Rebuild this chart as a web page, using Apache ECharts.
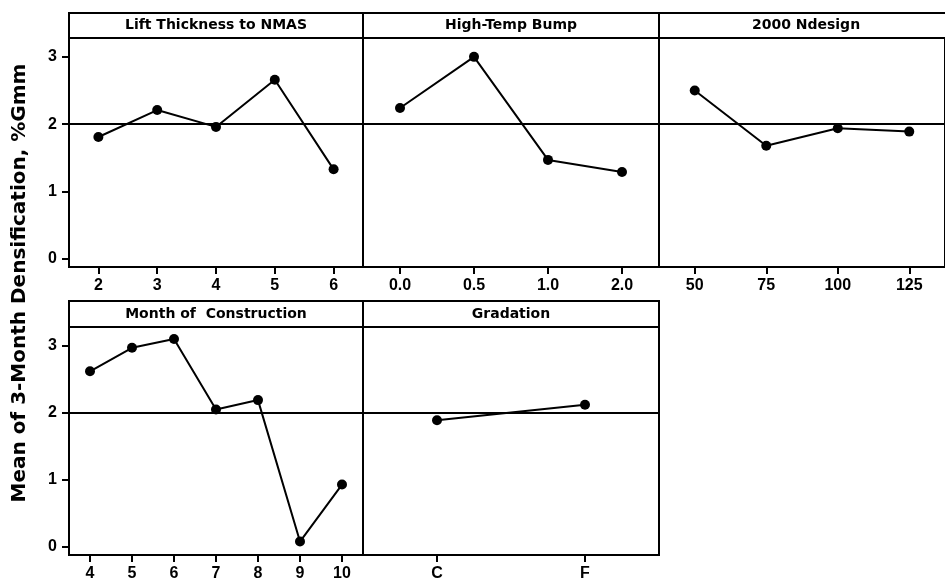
<!DOCTYPE html>
<html>
<head>
<meta charset="utf-8">
<script src="https://cdn.jsdelivr.net/npm/echarts@6/dist/echarts.min.js"></script>
<style>
  html, body { margin: 0; padding: 0; background: #fff; }
  #chart { width: 945px; height: 584px; }
</style>
</head>
<body>
<div id="chart"></div>
<script>
// Main effects of each factor on mean 3-month densification (%Gmm)
const liftLevels = ['2', '3', '4', '5', '6'];
const liftMeans = [1.81, 2.21, 1.96, 2.66, 1.33];

const bumpLevels = ['0.0', '0.5', '1.0', '2.0'];
const bumpMeans = [2.24, 3.00, 1.47, 1.29];

const ndesignLevels = ['50', '75', '100', '125'];
const ndesignMeans = [2.50, 1.68, 1.94, 1.89];

const monthLevels = ['4', '5', '6', '7', '8', '9', '10'];
const monthMeans = [2.62, 2.97, 3.10, 2.05, 2.19, 0.08, 0.93];

const gradationLevels = ['C', 'F'];
const gradationMeans = [1.89, 2.12];

const grandMean = 2.0;
const yTickValues = [0, 1, 2, 3];
const yAxisTitle = 'Mean of 3-Month Densification, %Gmm';

const panelTitles = ['Lift Thickness to NMAS', 'High-Temp Bump', '2000 Ndesign', 'Month of  Construction', 'Gradation'];
const panelLevels = [liftLevels, bumpLevels, ndesignLevels, monthLevels, gradationLevels];
const panelMeans = [liftMeans, bumpMeans, ndesignMeans, monthMeans, gradationMeans];

// panel frames: [left, top of plot, width, height]
const panelBoxes = [
  [69, 38, 294, 229],
  [363, 38, 296, 229],
  [659, 38, 293, 229],
  [69, 327, 294, 228],
  [363, 327, 296, 228]
];
const stripHeight = [25, 25, 25, 26, 26];
const yColumnFirst = [true, false, false, true, false];

const INK = '#000';
const tickFont = 'Liberation Sans';

const chart = echarts.init(document.getElementById('chart'), null, { renderer: 'canvas' });

const grids = [], xAxes = [], yAxes = [], series = [], graphics = [];

panelBoxes.forEach((b, i) => {
  grids.push({
    left: b[0], top: b[1], width: b[2], height: b[3],
    show: true, borderColor: INK, borderWidth: 2, backgroundColor: '#fff'
  });
  xAxes.push({
    type: 'category', gridIndex: i, data: panelLevels[i], boundaryGap: true,
    axisLine: { show: true, onZero: false, lineStyle: { color: INK, width: 2 } },
    axisTick: { show: true, alignWithLabel: true, length: 7, lineStyle: { color: INK, width: 2 } },
    axisLabel: { color: INK, fontFamily: tickFont, fontWeight: 'bold', fontSize: 16, margin: 11 },
    splitLine: { show: false }
  });
  yAxes.push({
    type: 'value', gridIndex: i, min: -0.12, max: 3.28,
    axisLine: { show: yColumnFirst[i], lineStyle: { color: INK, width: 2 } },
    axisTick: { show: yColumnFirst[i], customValues: yTickValues, length: 7, lineStyle: { color: INK, width: 2 } },
    axisLabel: { show: yColumnFirst[i], customValues: yTickValues, color: INK, fontFamily: tickFont, fontWeight: 'bold', fontSize: 16, margin: 12 },
    splitLine: { show: false }
  });
  series.push({
    type: 'line', xAxisIndex: i, yAxisIndex: i, data: panelMeans[i],
    symbol: 'circle', symbolSize: 10,
    itemStyle: { color: INK },
    lineStyle: { color: INK, width: 2 },
    z: 3,
    markLine: {
      silent: true, symbol: ['none', 'none'], label: { show: false },
      lineStyle: { color: INK, width: 2, type: 'solid' },
      data: [{ yAxis: grandMean }],
      z: 2
    }
  });
  // title strip above each panel
  graphics.push({
    type: 'rect',
    shape: { x: b[0], y: b[1] - stripHeight[i], width: b[2], height: stripHeight[i] },
    style: { fill: '#fff', stroke: INK, lineWidth: 2 },
    z: 10
  });
  graphics.push({
    type: 'text',
    x: b[0] + (i === 2 ? 147 : b[2] / 2), y: b[1] - stripHeight[i] / 2,
    style: {
      text: panelTitles[i], fill: INK, font: 'bold 14px "DejaVu Sans"',
      align: 'center', verticalAlign: 'middle'
    },
    z: 11
  });
});

graphics.push({
  type: 'text',
  x: 20, y: 283, rotation: Math.PI / 2,
  style: {
    text: yAxisTitle, fill: INK, font: 'bold 20px "DejaVu Sans"',
    align: 'center', verticalAlign: 'middle'
  }
});

chart.setOption({
  animation: false,
  backgroundColor: '#fff',
  grid: grids,
  xAxis: xAxes,
  yAxis: yAxes,
  series: series,
  graphic: graphics
});
</script>
</body>
</html>
